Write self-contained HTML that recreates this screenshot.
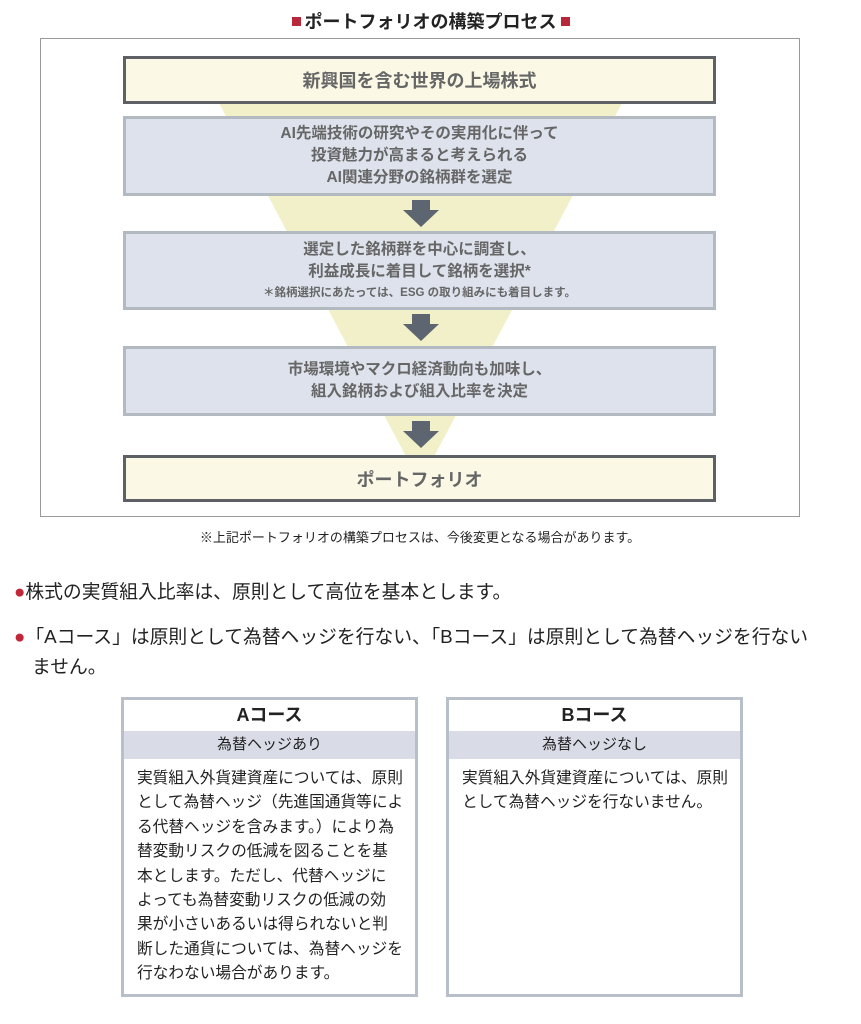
<!DOCTYPE html>
<html><head><meta charset="utf-8"><style>
body{margin:0;width:861px;height:1024px;background:#fff;font-family:"Liberation Sans","Noto Sans CJK JP",sans-serif;color:#222;position:relative;overflow:hidden}
.a{position:absolute}
.t{font-weight:bold;font-size:18px;left:0;width:861px;text-align:center;top:8px}
.t i{display:inline-block;width:9px;height:9px;background:#b8283a;margin:0 4px;vertical-align:2px}
.box{position:absolute;left:123px;width:593px;box-sizing:border-box;display:flex;flex-direction:column;justify-content:center;align-items:center;text-align:center;font-weight:bold;color:#666}
.y{background:#fbf9e6;border:3px solid #5d6165;font-size:18px}
.g{background:#dde2ec;border:3px solid #b3b9c1;font-size:15.5px;line-height:22px}
.ar{position:absolute;left:403px}
.c{position:absolute;top:697px;width:297px;height:300px;border:3px solid #b8bfc8;box-sizing:border-box}
.c .h{height:31px;text-align:center;font-weight:bold;font-size:18px;line-height:31px}
.c .s{height:28px;background:#d9dce6;text-align:center;font-size:15px;line-height:28px}
.c .b{padding:8px 8px 0 13px;font-size:15.7px;line-height:24.4px}
</style></head><body>
<div class="a t"><i></i>ポートフォリオの構築プロセス<i></i></div>
<div class="a" style="left:40px;top:38px;width:760px;height:479px;border:1px solid #999;box-sizing:border-box"></div>
<svg class="a" style="left:0;top:0" width="861" height="520"><polygon points="219,103 622,103 420,483" fill="#f1f0c8"/></svg>
<div class="box y" style="top:56px;height:48px">新興国を含む世界の上場株式</div>
<div class="box g" style="top:116px;height:80px">AI先端技術の研究やその実用化に伴って<br>投資魅力が高まると考えられる<br>AI関連分野の銘柄群を選定</div>
<div class="box g" style="top:231px;height:79px">選定した銘柄群を中心に調査し、<br>利益成長に着目して銘柄を選択*<span style="font-size:11.5px;line-height:20px">＊銘柄選択にあたっては、ESG の取り組みにも着目します。</span></div>
<div class="box g" style="top:346px;height:70px">市場環境やマクロ経済動向も加味し、<br>組入銘柄および組入比率を決定</div>
<div class="box y" style="top:455px;height:47px">ポートフォリオ</div>
<svg class="ar" style="top:200px" width="36" height="27"><polygon points="9,0 27,0 27,10 36,10 18,27 0,10 9,10" fill="#5d6670"/></svg>
<svg class="ar" style="top:314px" width="36" height="27"><polygon points="9,0 27,0 27,10 36,10 18,27 0,10 9,10" fill="#5d6670"/></svg>
<svg class="ar" style="top:421px" width="36" height="27"><polygon points="9,0 27,0 27,10 36,10 18,27 0,10 9,10" fill="#5d6670"/></svg>
<div class="a" style="left:0;width:840px;text-align:center;top:527px;font-size:13px">※上記ポートフォリオの構築プロセスは、今後変更となる場合があります。</div>
<div class="a" style="left:14px;top:577px;font-size:18.8px;line-height:30px;width:830px"><span style="color:#c0283a">●</span>株式の実質組入比率は、原則として高位を基本とします。</div>
<div class="a" style="left:14px;top:622px;font-size:18.8px;line-height:30px;width:830px;padding-left:18px;text-indent:-18px;box-sizing:border-box"><span style="color:#c0283a">●</span>「Aコース」は原則として為替ヘッジを行ない、「Bコース」は原則として為替ヘッジを行ない<br>ません。</div>
<div class="c" style="left:121px"><div class="h">Aコース</div><div class="s">為替ヘッジあり</div><div class="b">実質組入外貨建資産については、原則<br>として為替ヘッジ（先進国通貨等によ<br>る代替ヘッジを含みます。）により為<br>替変動リスクの低減を図ることを基<br>本とします。ただし、代替ヘッジに<br>よっても為替変動リスクの低減の効<br>果が小さいあるいは得られないと判<br>断した通貨については、為替ヘッジを<br>行なわない場合があります。</div></div>
<div class="c" style="left:446px"><div class="h">Bコース</div><div class="s">為替ヘッジなし</div><div class="b">実質組入外貨建資産については、原則<br>として為替ヘッジを行ないません。</div></div>
</body></html>
